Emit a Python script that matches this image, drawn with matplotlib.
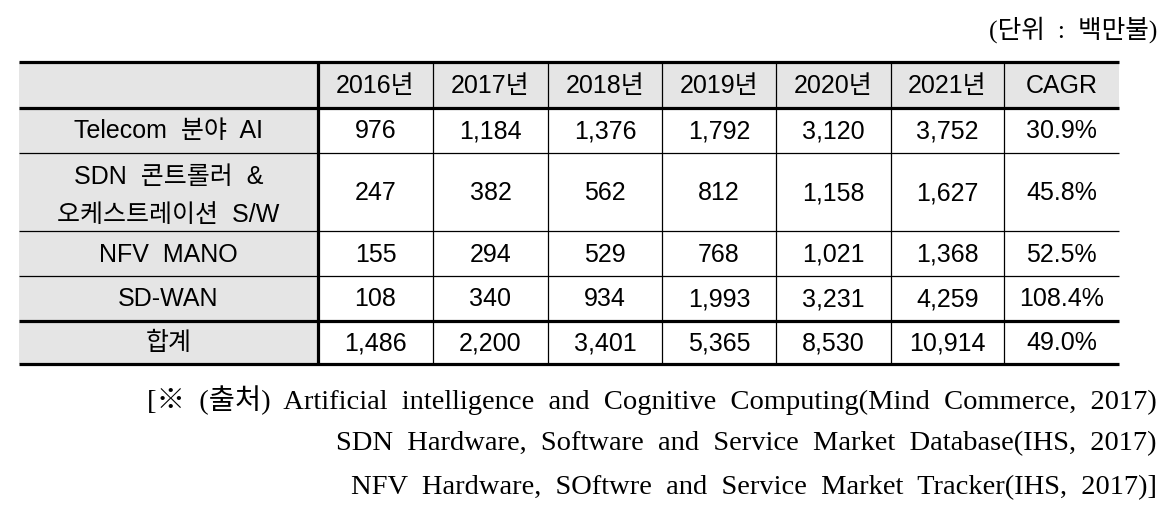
import matplotlib
matplotlib.use('Agg')
import matplotlib.pyplot as plt
from matplotlib.patches import Rectangle

# table data
years = ['2016년', '2017년', '2018년', '2019년', '2020년', '2021년']
header = years + ['CAGR']
categories = ['Telecom  분야  AI', 'SDN  콘트롤러  &\n오케스트레이션  S/W', 'NFV  MANO', 'SD-WAN', '합계']
telecom_ai = [976, 1184, 1376, 1792, 3120, 3752]
sdn = [247, 382, 562, 812, 1158, 1627]
nfv_mano = [155, 294, 529, 768, 1021, 1368]
sd_wan = [108, 340, 934, 1993, 3231, 4259]
total = [1486, 2200, 3401, 5365, 8530, 10914]
cagr = ['30.9%', '45.8%', '52.5%', '108.4%', '49.0%']
unit = '(단위  :  백만불)'
sources = ['[※  (출처)  Artificial  intelligence  and  Cognitive  Computing(Mind  Commerce,  2017)',
           'SDN  Hardware,  Software  and  Service  Market  Database(IHS,  2017)',
           'NFV  Hardware,  SOftwre  and  Service  Market  Tracker(IHS,  2017)]']

series = [telecom_ai, sdn, nfv_mano, sd_wan, total]

# layout (pixels)
col_x = [19, 318, 433, 548, 662, 776, 891, 1004, 1119]
row_y = [62, 108, 153, 231, 276, 321, 364]
grey = '#e5e5e5'
sans = ['Liberation Sans', 'Noto Sans CJK KR']
serif = ['Liberation Serif', 'Noto Sans CJK KR']
fs = 18

fig = plt.figure(figsize=(11.76, 5.18), dpi=100)
ax = fig.add_axes([0, 0, 1, 1])
ax.set_xlim(0, 1176)
ax.set_ylim(518, 0)
ax.axis('off')

# backgrounds
ax.add_patch(Rectangle((col_x[0], row_y[0]), col_x[-1] - col_x[0], row_y[1] - row_y[0],
                       facecolor=grey, edgecolor='none'))
ax.add_patch(Rectangle((col_x[0], row_y[1]), col_x[1] - col_x[0], row_y[-1] - row_y[1],
                       facecolor=grey, edgecolor='none'))

# header
for i, h in enumerate(header):
    cx = (col_x[i + 1] + col_x[i + 2]) / 2
    ax.text(cx, (row_y[0] + row_y[1]) / 2 + 1, h, ha='center', va='center',
            fontsize=fs, family=sans)

# body
for r, (cat, vals) in enumerate(zip(categories, series)):
    cy = (row_y[r + 1] + row_y[r + 2]) / 2 + 1
    label_y = cy + 3 if '\n' in cat else cy
    ax.text((col_x[0] + col_x[1]) / 2, label_y, cat, ha='center', va='center',
            fontsize=fs, family=sans, linespacing=1.7)
    for c, v in enumerate(vals):
        ax.text((col_x[c + 1] + col_x[c + 2]) / 2, cy, '{:,}'.format(v),
                ha='center', va='center', fontsize=fs, family=sans)
    ax.text((col_x[-2] + col_x[-1]) / 2, cy, cagr[r], ha='center', va='center',
            fontsize=fs, family=sans)

# grid lines
thin, thick = 0.9, 2.3
for i, y in enumerate(row_y):
    lw = thick if i in (0, 1, len(row_y) - 2, len(row_y) - 1) else thin
    ax.plot([col_x[0], col_x[-1]], [y, y], color='black', lw=lw, solid_capstyle='butt')
for i, x in enumerate(col_x[1:-1]):
    lw = thick if i == 0 else thin
    ax.plot([x, x], [row_y[0], row_y[-1]], color='black', lw=lw, solid_capstyle='butt')

# unit and sources
ax.text(1157, 30, unit, ha='right', va='center', fontsize=18.5, family=serif)
for k, s in enumerate(sources):
    ax.text(1157, 400 + 44 * k, s, ha='right', va='center', fontsize=20.5, family=serif)

fig.savefig('out.png', dpi=100)
